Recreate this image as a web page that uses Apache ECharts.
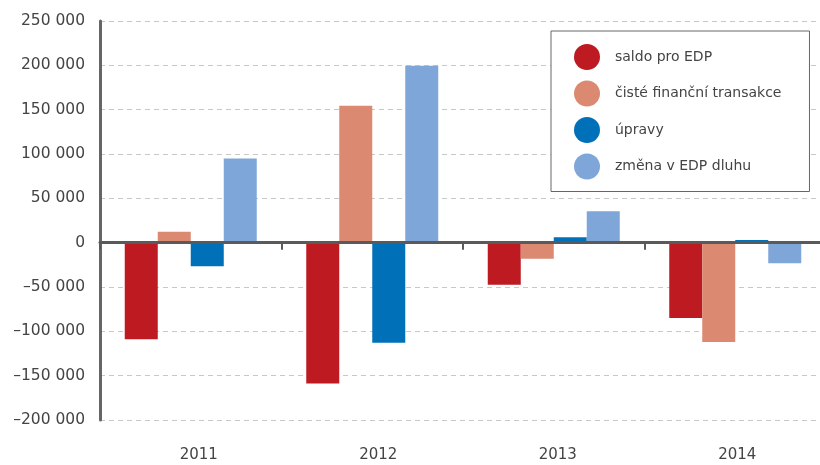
<!DOCTYPE html>
<html>
<head>
<meta charset="utf-8">
<script src="https://cdn.jsdelivr.net/npm/echarts@6/dist/echarts.min.js"></script>
<style>
  html, body { margin: 0; padding: 0; background: #fff; }
  #chart { width: 820px; height: 465px; }
</style>
</head>
<body>
<div id="chart"></div>
<script>
// data
var years = ['2011', '2012', '2013', '2014'];
var saldo = [-109000, -158700, -47400, -85000];
var cisteTransakce = [12400, 154300, -18000, -112000];
var upravy = [-26600, -112900, 6000, 3000];
var zmenaDluhu = [94800, 199400, 35400, -23300];
var seriesNames = ['saldo pro EDP', 'čisté finanční transakce', 'úpravy', 'změna v EDP dluhu'];
var colors = ['#be1a22', '#db8970', '#0070b8', '#7ea6d8'];

var font = '"DejaVu Sans", sans-serif';

// cisla s mezerou jako oddelovacem tisicu
function fmt(v) {
    var s = String(Math.abs(v)).replace(/\B(?=(\d{3})+(?!\d))/g, ' ');
    return v < 0 ? '–' + s : s;
}

var myChart = echarts.init(document.getElementById('chart'));
var allData = [saldo, cisteTransakce, upravy, zmenaDluhu];
var series = allData.map(function (d, i) {
    return {
        name: seriesNames[i],
        type: 'bar',
        data: d,
        barWidth: 33,
        barGap: '0%',
        itemStyle: { color: colors[i] },
        xAxisIndex: 0,
        yAxisIndex: 0
    };
});

var option = {
    animation: false,
    color: colors,
    textStyle: { fontFamily: font },
    grid: [
        { left: 100, width: 726, top: 21, bottom: 45, outerBoundsMode: 'none' },
        // jen pro popisky roku (v originale trochu posunute doprava)
        { left: 109, width: 718, top: 21, bottom: 45, outerBoundsMode: 'none' }
    ],
    legend: {
        orient: 'vertical',
        left: 551,
        top: 31,
        icon: 'circle',
        itemWidth: 26,
        itemHeight: 26,
        itemGap: 10.5,
        padding: [13, 28, 12, 23],
        backgroundColor: '#fff',
        borderColor: '#666',
        borderWidth: 1,
        textStyle: { fontSize: 14, color: '#444', padding: [0, 0, 0, 10], fontFamily: font },
        data: seriesNames
    },
    xAxis: [
        {
            // nulova osa s carkami
            type: 'category',
            gridIndex: 0,
            data: years,
            axisLine: { onZero: true, lineStyle: { color: '#5a5a5a', width: 3 } },
            axisTick: { show: true, length: 7, lineStyle: { color: '#5a5a5a', width: 2 } },
            axisLabel: { show: false },
            z: 10
        },
        {
            // popisky roku dole
            type: 'category',
            gridIndex: 1,
            data: years,
            position: 'bottom',
            axisLine: { show: false, onZero: false },
            axisTick: { show: false },
            axisLabel: { fontSize: 15, color: '#444', margin: 28, fontFamily: font }
        }
    ],
    yAxis: [
        {
            type: 'value',
            gridIndex: 0,
            min: -200000,
            max: 250000,
            interval: 50000,
            axisLine: { show: true, lineStyle: { color: '#666', width: 3 } },
            axisTick: { show: false },
            axisLabel: { fontSize: 15.5, color: '#444', margin: 15, formatter: fmt, fontFamily: font },
            splitLine: { lineStyle: { color: '#c8c8c8', type: [5, 4], width: 1 } }
        },
        {
            type: 'value',
            gridIndex: 1,
            min: -200000,
            max: 250000,
            show: false
        }
    ],
    series: series
};
myChart.setOption(option);
</script>
</body>
</html>
